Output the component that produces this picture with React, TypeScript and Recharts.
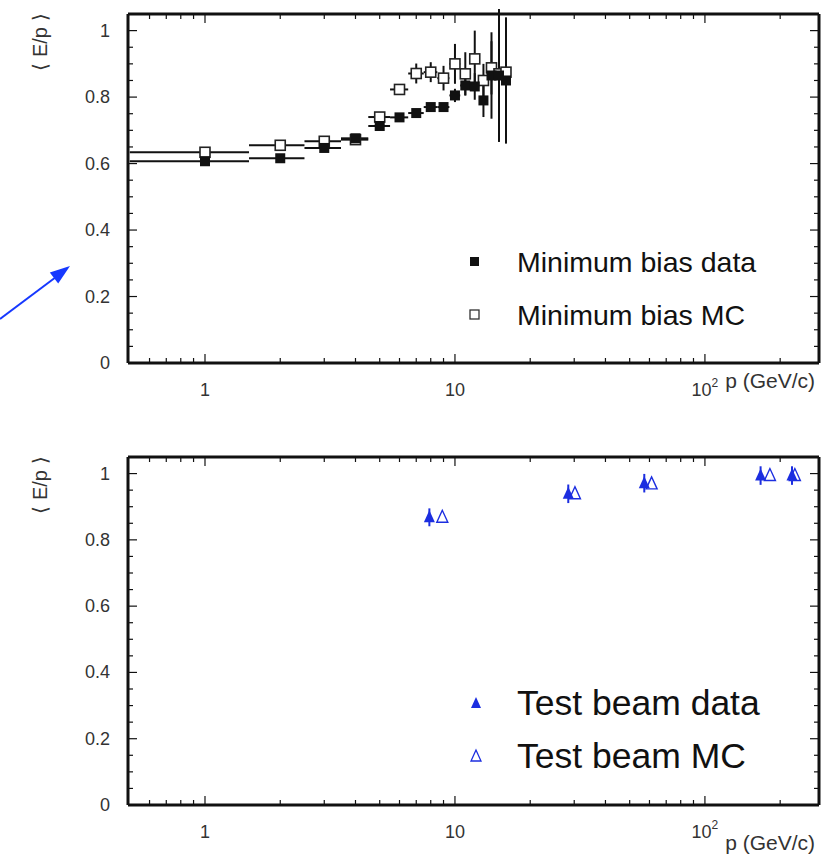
import React from 'react';
import { ScatterChart, Scatter, XAxis, YAxis, ErrorBar, Legend } from 'recharts';

// minimum bias sample, 1 GeV/c bins
const momenta = [1, 2, 3, 4, 5, 6, 7, 8, 9, 10, 11, 12, 13, 14, 15, 16];
const dataMean = [0.607, 0.616, 0.647, 0.676, 0.713, 0.739, 0.752, 0.77, 0.77, 0.805, 0.835, 0.832, 0.79, 0.865, 0.865, 0.85];
const dataErr = [0.004, 0.004, 0.005, 0.006, 0.008, 0.01, 0.01, 0.012, 0.012, 0.02, 0.03, 0.04, 0.05, 0.13, 0.2, 0.19];
const mcMean = [0.634, 0.655, 0.667, 0.672, 0.74, 0.823, 0.871, 0.875, 0.857, 0.9, 0.87, 0.915, 0.85, 0.888, 0.87, 0.875];
const mcErr = [0.004, 0.004, 0.005, 0.005, 0.008, 0.01, 0.03, 0.03, 0.037, 0.06, 0.065, 0.085, 0.05, 0.08, 0.1, 0.1];
const binHalf = [0.5, 0.5, 0.5, 0.5, 0.5, 0.5, 0.5, 0.5, 0.5, 0.5, 0.5, 0.5, 0.5, 0.5, 0.5, 0.5];

// test beam
const beamP = [7.9, 28.4, 57.2, 167, 223];
const beamMean = [0.868, 0.939, 0.971, 0.994, 0.994];
const beamErr = [0.027, 0.028, 0.028, 0.028, 0.028];
const beamMcP = [8.9, 30.2, 61.2, 182, 229];
const beamMcMean = [0.868, 0.939, 0.969, 0.994, 0.994];

const xMajor = [1, 10, 100];
const xMinor = [0.6, 0.7, 0.8, 0.9, 2, 3, 4, 5, 6, 7, 8, 9, 20, 30, 40, 50, 60, 70, 80, 90, 200];
const yMajor = [0, 0.2, 0.4, 0.6, 0.8, 1];
const yMinor = [0.05, 0.1, 0.15, 0.25, 0.3, 0.35, 0.45, 0.5, 0.55, 0.65, 0.7, 0.75, 0.85, 0.9, 0.95];

const xTicks = [...xMinor, ...xMajor].sort((a, b) => a - b);
const yTicks = [...yMinor, ...yMajor].sort((a, b) => a - b);

const minBiasData = momenta.map((p, i) => ({ p, v: dataMean[i], ex: [binHalf[i], binHalf[i]], ey: dataErr[i] }));
const minBiasMc = momenta.map((p, i) => ({ p, v: mcMean[i], ex: [binHalf[i], binHalf[i]], ey: mcErr[i] }));
const beamData = beamP.map((p, i) => ({ p, v: beamMean[i], ey: beamErr[i] }));
const beamMc = beamMcP.map((p, i) => ({ p, v: beamMcMean[i] }));

const FONT = '"Liberation Sans", Arial, Helvetica, sans-serif';
const INK = '#111';
const BLUE = '#1c2ee0';
const X_DOMAIN = [0.492, 286];
const Y_DOMAIN = [0, 1.05];

const FilledSquare = (props: any) => (
  <rect x={props.cx - 5} y={props.cy - 5} width={10} height={10} fill={INK} />
);
const OpenSquare = (props: any) => (
  <rect x={props.cx - 5} y={props.cy - 5} width={10} height={10} fill="#fff" stroke="#222" strokeWidth={1.6} />
);
const FilledTriangle = (props: any) => (
  <polygon points={`${props.cx},${props.cy - 7} ${props.cx - 5.5},${props.cy + 5} ${props.cx + 5.5},${props.cy + 5}`} fill={BLUE} />
);
const OpenTriangle = (props: any) => (
  <polygon points={`${props.cx},${props.cy - 7} ${props.cx - 5.5},${props.cy + 5} ${props.cx + 5.5},${props.cy + 5}`} fill="#fff" stroke={BLUE} strokeWidth={1.4} />
);
const Nothing = () => <g />;

const BottomTick = (props: any) => {
  const { x, y, payload } = props;
  const major = xMajor.includes(payload.value);
  return (
    <g>
      <line x1={x} x2={x} y1={y} y2={y - (major ? 9 : 5)} stroke={INK} strokeWidth={1.2} />
      {major && (
        <text x={x} y={y + 33} textAnchor="middle" fontSize={18} fontFamily={FONT} fill="#333">
          {payload.value === 100 ? (
            <>
              10<tspan dy={-9} fontSize={12}>2</tspan>
            </>
          ) : (
            String(payload.value)
          )}
        </text>
      )}
    </g>
  );
};

const TopTick = (props: any) => {
  const { x, y, payload } = props;
  const major = xMajor.includes(payload.value);
  return <line x1={x} x2={x} y1={y} y2={y + (major ? 9 : 5)} stroke={INK} strokeWidth={1.2} />;
};

const LeftTick = (props: any) => {
  const { x, y, payload } = props;
  const major = yMajor.includes(payload.value);
  const label = payload.value === 0 || payload.value === 1 ? String(payload.value) : payload.value.toFixed(1);
  return (
    <g>
      <line x1={x} x2={x + (major ? 9 : 5)} y1={y} y2={y} stroke={INK} strokeWidth={1.2} />
      {major && (
        <text x={x - 18} y={y + 6} textAnchor="end" fontSize={18} fontFamily={FONT} fill="#333">
          {label}
        </text>
      )}
    </g>
  );
};

const RightTick = (props: any) => {
  const { x, y, payload } = props;
  const major = yMajor.includes(payload.value);
  return <line x1={x} x2={x - (major ? 9 : 5)} y1={y} y2={y} stroke={INK} strokeWidth={1.2} />;
};

const yTitle = (props: any) => {
  const cx = 40;
  const cy = props.viewBox.y + 28;
  return (
    <text x={cx} y={cy} transform={`rotate(-90 ${cx} ${cy})`} textAnchor="middle" dominantBaseline="central" fontSize={20} fontFamily={FONT} fill="#333">
      ⟨ E/p ⟩
    </text>
  );
};

const xTitle = (dy: number) => (props: any) => (
  <text x={815} y={props.viewBox.y + dy} textAnchor="end" fontSize={21} fontFamily={FONT} fill="#333">
    p (GeV/c)
  </text>
);

const axisLine = { stroke: INK, strokeWidth: 3 };

const Frame = ({ xLabelDy }: { xLabelDy: number }) => [
  <XAxis
    key="xb"
    dataKey="p"
    type="number"
    scale="log"
    domain={X_DOMAIN}
    allowDataOverflow
    ticks={xTicks}
    interval={0}
    height={67}
    tickSize={0}
    tickMargin={0}
    tick={BottomTick}
    axisLine={axisLine}
    label={xTitle(xLabelDy)}
  />,
  <XAxis
    key="xt"
    xAxisId="top"
    dataKey="p"
    orientation="top"
    type="number"
    scale="log"
    domain={X_DOMAIN}
    allowDataOverflow
    ticks={xTicks}
    interval={0}
    height={1}
    tickSize={0}
    tickMargin={0}
    tick={TopTick}
    axisLine={axisLine}
  />,
  <YAxis
    key="yl"
    dataKey="v"
    type="number"
    domain={Y_DOMAIN}
    allowDataOverflow
    ticks={yTicks}
    interval={0}
    width={128}
    tickSize={0}
    tickMargin={0}
    tick={LeftTick}
    axisLine={axisLine}
    label={yTitle}
  />,
  <YAxis
    key="yr"
    yAxisId="right"
    dataKey="v"
    orientation="right"
    type="number"
    domain={Y_DOMAIN}
    allowDataOverflow
    ticks={yTicks}
    interval={0}
    width={1}
    tickSize={0}
    tickMargin={0}
    tick={RightTick}
    axisLine={axisLine}
  />,
];

const LegendBox = ({ rows, fontSize }: { rows: { marker: React.ReactNode; text: string; base: number }[]; fontSize: number }) => (
  <svg width={340} height={110} style={{ overflow: 'visible' }}>
    {rows.map((r) => (
      <g key={r.text}>
        {r.marker}
        <text x={62} y={r.base} fontSize={fontSize} fontFamily={FONT} fill={INK}>
          {r.text}
        </text>
      </g>
    ))}
  </svg>
);

const topLegend = () => (
  <LegendBox
    fontSize={28.5}
    rows={[
      { marker: <rect x={15} y={22} width={9} height={9} fill={INK} />, text: 'Minimum bias data', base: 37 },
      { marker: <rect x={15} y={75} width={9} height={9} fill="#fff" stroke="#333" strokeWidth={1.3} />, text: 'Minimum bias MC', base: 90 },
    ]}
  />
);

const bottomLegend = () => (
  <LegendBox
    fontSize={35.5}
    rows={[
      { marker: <polygon points="21,22 16,33 26,33" fill={BLUE} />, text: 'Test beam data', base: 40 },
      { marker: <polygon points="21,75 16,86 26,86" fill="#fff" stroke={BLUE} strokeWidth={1.3} />, text: 'Test beam MC', base: 93 },
    ]}
  />
);

const errStyle = { stroke: INK, strokeWidth: 2, width: 0 };

export default function App() {
  return (
    <div style={{ position: 'absolute', left: 0, top: 0, width: 821, height: 858, background: '#fff' }}>
      <div style={{ position: 'absolute', left: 0, top: 0 }}>
        <ScatterChart width={821} height={430} margin={{ top: 13, right: 1, bottom: 0, left: 0 }}>
          {Frame({ xLabelDy: 25 })}
          {/* carries the top and right frame axes */}
          <Scatter data={minBiasData} xAxisId="top" yAxisId="right" shape={Nothing} legendType="none" isAnimationActive={false} />
          <Scatter data={minBiasMc} shape={OpenSquare} isAnimationActive={false}>
            <ErrorBar dataKey="ex" direction="x" {...errStyle} />
            <ErrorBar dataKey="ey" direction="y" {...errStyle} />
          </Scatter>
          <Scatter data={minBiasData} shape={FilledSquare} isAnimationActive={false}>
            <ErrorBar dataKey="ex" direction="x" {...errStyle} />
            <ErrorBar dataKey="ey" direction="y" {...errStyle} />
          </Scatter>
          <Legend
            layout="vertical"
            align="center"
            verticalAlign="middle"
            wrapperStyle={{ position: 'absolute', left: 455, top: 235, width: 340, height: 110 }}
            content={topLegend}
          />
        </ScatterChart>
      </div>
      <div style={{ position: 'absolute', left: 0, top: 430 }}>
        <ScatterChart width={821} height={428} margin={{ top: 26, right: 1, bottom: -14, left: 0 }}>
          {Frame({ xLabelDy: 45 })}
          <Scatter data={beamData} xAxisId="top" yAxisId="right" shape={Nothing} legendType="none" isAnimationActive={false} />
          <Scatter data={beamMc} shape={OpenTriangle} isAnimationActive={false} />
          <Scatter data={beamData} shape={FilledTriangle} isAnimationActive={false}>
            <ErrorBar dataKey="ey" direction="y" stroke={BLUE} strokeWidth={2} width={0} />
          </Scatter>
          <Legend
            layout="vertical"
            align="center"
            verticalAlign="middle"
            wrapperStyle={{ position: 'absolute', left: 455, top: 245, width: 340, height: 110 }}
            content={bottomLegend}
          />
        </ScatterChart>
      </div>
      <svg width={140} height={340} style={{ position: 'absolute', left: 0, top: 0, pointerEvents: 'none' }}>
        <line x1={0} y1={319} x2={56} y2={277} stroke="#1638ff" strokeWidth={2} />
        <polygon points="70,266 49.8,272.4 58.2,283.6" fill="#1638ff" />
      </svg>
    </div>
  );
}
